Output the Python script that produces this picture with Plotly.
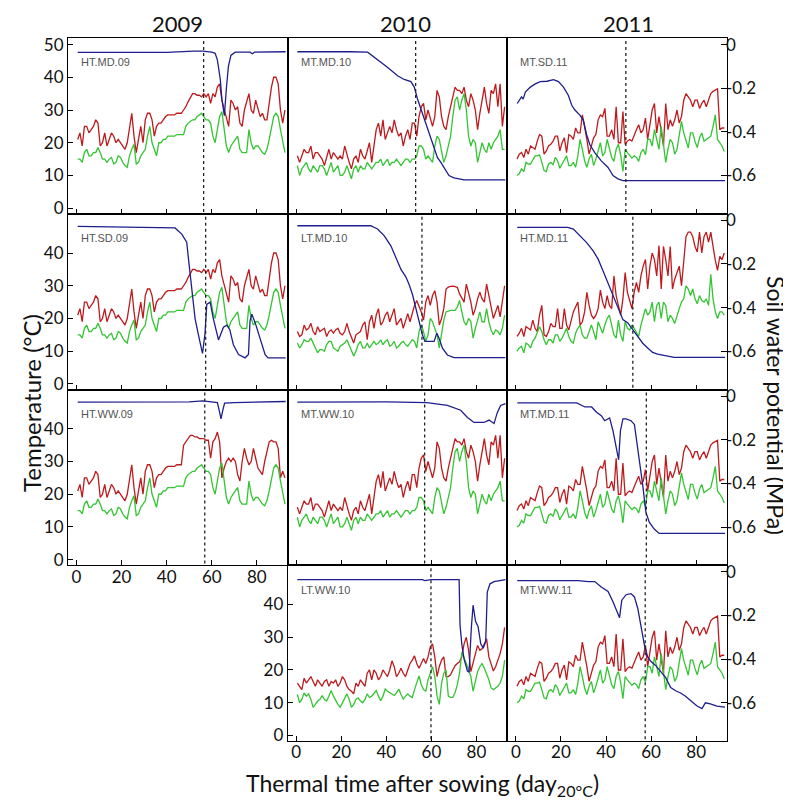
import plotly.graph_objects as go

# ---------------- data ----------------
thermal_time = [i + 0.5 for i in range(93)]

# 2009, high temperature site
ht09_tmax = [21, 23, 19, 25, 25, 23, 24, 25, 27, 26, 19, 20, 23, 19, 21, 23, 22, 20, 21, 20,
             19, 18, 20, 25, 29, 22, 17, 21, 25, 20, 27, 29, 29, 27, 22, 25, 26, 26, 27, 28,
             28.5, 28.5, 28.5, 28.5, 29, 29, 29, 30, 31, 32.5, 34, 35, 35, 34.5, 34.5, 34, 35, 34, 35, 32,
             35, 34, 37, 38, 33, 30, 27, 25, 33, 32, 30, 31, 26, 25, 30, 33, 35, 30, 29, 33,
             30, 28, 29, 27, 27, 32, 37, 40, 40, 38, 30, 26, 30]
ht09_ww_tmax = [21, 23, 19, 25, 25, 23, 24, 25, 27, 26, 19, 20, 23, 19, 21, 23, 22, 20, 21, 20,
                19, 18, 20, 25, 29, 22, 17, 21, 25, 20, 27, 29, 29, 27, 22, 25, 26, 26, 27, 28,
                28.5, 28.5, 28.5, 28.5, 29, 29, 29, 35, 36, 37, 38, 38, 37.5, 37.5, 37, 37, 37, 36.5, 36.5, 31,
                36, 37, 39, 36, 25, 28, 30, 31, 30, 31, 30, 26, 24, 30, 34, 31, 29, 30, 34, 31,
                28, 27, 26, 30, 33, 36, 36.5, 36, 36, 34, 25, 27, 25]
ht09_tmin = [15, 15, 14, 17, 18, 16, 16, 17, 17, 18.5, 17, 15, 15, 14, 15, 15.5, 13.5, 14, 16, 15.5,
             14, 13, 12.5, 16, 18, 19.5, 13.5, 14, 16, 17, 18, 22, 25, 20, 18, 16, 20, 20, 21, 21,
             22, 22, 22, 22, 22.5, 22.5, 22.5, 22.5, 25, 26, 26.5, 27, 27, 28, 28.5, 29, 28, 27, 27, 26,
             22, 20, 24, 28, 29.5, 24, 19, 17, 19, 20, 21, 22, 18, 17, 17, 17, 24, 20, 18, 19,
             19, 18, 17, 16.5, 18, 21, 24, 28, 29, 28, 24, 20, 17]

# 2010, medium temperature site
mt10_tmax = [16, 14, 16, 18, 17, 17, 19, 15, 17, 17, 16, 15, 13, 16, 18, 15, 17, 16, 15, 16,
             15, 19, 16, 14, 12, 15, 16, 14, 18, 16, 15, 18, 20, 14, 20, 24, 26, 22, 27, 21,
             23, 25, 23, 27, 24, 22, 23, 19, 22, 24, 21, 26, 26, 22, 28, 31, 32, 27, 30, 27,
             25, 28, 36, 34, 28, 25, 24, 28, 31, 33, 37, 36, 36, 35, 37, 33, 31, 35, 33, 30,
             24, 29, 33, 37, 32, 29, 36, 35, 38, 31, 38, 25, 31]
mt10_tmin = [13, 10, 12, 13, 14, 12, 11, 13, 12, 11, 13, 13, 12, 10, 12, 14, 11, 12, 13, 10,
             10, 11, 13, 11, 9, 12, 13, 11, 13, 12, 12, 14, 13, 12, 13, 14, 14, 15, 13, 14,
             15, 13, 14, 14, 15, 14, 13, 14, 15, 15, 14, 15, 15, 16, 19, 19, 18, 15, 16, 15,
             14, 19, 22, 21, 18, 14, 16, 19, 22, 28, 33, 34, 30, 33, 35, 30, 22, 19, 21, 20,
             14, 17, 20, 18, 17, 20, 18, 20, 21, 22, 24, 18, 18]

# 2010, low temperature site (two plots)
lt10_md_tmax = [16, 14.5, 15, 18, 16.5, 17, 18.5, 16, 15, 17.5, 16, 16.5, 17, 14.5, 16, 16.5, 15.5, 16.5, 17, 15.5,
                15, 16, 18.5, 16, 14, 12.5, 15, 15.5, 16, 18, 19, 13.5, 19, 21, 17, 21, 23, 18, 19, 21,
                22, 19, 21, 23, 18, 19, 20, 17, 19, 21.5, 19, 22, 24, 25.5, 24, 22, 19.5, 25, 27, 24,
                27, 28.5, 25, 18, 20, 23, 29, 29.6, 29.8, 29.9, 29.7, 29.5, 27.5, 26, 25, 30.5, 28, 25, 21, 23,
                26, 28, 26, 25, 30.5, 27, 23, 20, 22, 24, 20.5, 25, 30]
lt10_md_tmin = [12.5, 11, 12, 13.5, 13, 13, 14, 12.5, 11, 9.5, 10.5, 10.5, 10, 12, 13, 13, 11, 10.5, 10, 11.5,
                12, 12.5, 13.5, 12, 10, 8.5, 10, 12, 13, 11, 11, 12.5, 11, 12, 13, 12, 12.5, 13.5, 12, 13,
                13.5, 11.5, 12, 13, 11, 11.5, 12.5, 13, 12, 11.5, 12.5, 13.5, 13, 11, 16, 18, 16, 13, 15, 20,
                19, 17, 15, 11, 15, 19.5, 22, 22.3, 22.5, 22.5, 22.5, 23.5, 25.5, 22, 19, 18, 20, 19, 14, 17,
                20, 22, 19, 19, 23, 19, 16.5, 15, 16.5, 16, 15, 17, 21]
lt10_ww_tmax = [16, 15, 14, 17.5, 16, 17, 18, 16.5, 15, 17, 16, 15, 16.5, 17, 15, 16.5, 16, 17, 15, 16,
                18, 17, 15, 14, 13.5, 12.7, 16, 15, 17, 16, 15, 19, 20, 17, 20, 19, 17, 18, 20, 19,
                18, 20, 22.8, 21, 18, 19, 20.5, 19, 18, 20, 22, 23, 24.3, 22, 20.5, 22, 23.5, 22, 24, 27,
                28, 24, 18, 21, 23, 24, 18, 18, 18.5, 20, 21.3, 22, 22.5, 24, 28, 30, 26, 19.5, 22, 25,
                27.5, 26, 26.5, 28, 29.5, 24, 22, 19.7, 21, 23, 25, 28, 33]
lt10_ww_tmin = [12.5, 10, 11, 13, 12, 12.7, 11, 8.6, 9.5, 10.5, 11, 12.2, 11, 10.5, 12, 13.7, 12, 10.6, 9.5, 8.6,
                10, 11.5, 12.7, 11, 8.6, 9.5, 11, 11.5, 10.5, 10, 11, 12.7, 11.6, 12, 12.7, 13.7, 12, 10.6, 12, 14.2,
                13.5, 13, 12.5, 12.2, 13, 14.2, 12.5, 11.1, 12, 12.7, 12, 11.6, 14, 16, 18.2, 15.5, 14, 13.5, 17, 19,
                21, 18, 12, 9.5, 16, 19, 20, 12, 11.6, 11.6, 13, 15.5, 19, 25.5, 24, 22, 20, 18, 13.5, 17,
                19.5, 21, 22, 20.5, 19, 17, 14.5, 14, 14.5, 15, 16, 18, 23]

# 2011, high temperature site
ht11_tmax = [14.5, 15.5, 17, 14.5, 17.5, 17, 16.5, 19.5, 17, 16, 21, 24, 15, 14.5, 16, 18.5, 17.5, 17.5, 23, 17,
             17, 23, 18, 16.5, 19, 22, 23.5, 25, 18, 19, 22, 28, 24, 21, 20, 21, 23, 28.7, 25, 23,
             27, 24, 23, 33, 27, 24, 21, 26, 34, 28, 25, 23, 28, 31, 28, 33, 36, 38, 29, 36,
             40, 38, 33, 42.3, 29, 42, 38, 33, 42, 29, 32, 34, 36, 30, 38, 45, 46.4, 46.4, 45, 42,
             40.3, 46.4, 40, 45, 46.4, 43.3, 46.4, 42, 37.8, 34.7, 39, 38, 40]
ht11_tmin = [10, 11, 11.5, 9.5, 12.5, 12, 11, 13, 14, 16, 17.5, 16, 13.5, 12, 13.5, 13.5, 12.5, 15, 15, 13,
             14, 15.5, 17, 14.5, 13, 12.5, 15.5, 17, 18, 15, 14, 14, 16, 18, 16, 13.5, 19, 17, 15.5, 18,
             20, 21, 17.5, 15, 14, 19.5, 15, 13, 19, 17, 16.5, 18, 17, 15.5, 14.5, 18, 21, 23, 21, 22,
             25, 19, 24, 25, 20, 25, 24, 19, 21, 20, 18.5, 21, 23, 25, 26, 30, 29, 27, 29, 26,
             24.5, 27, 25.5, 25, 26, 24, 33.5, 26, 22, 20, 22, 22, 21]

# 2011, medium temperature site
mt11_tmax = [15, 16.5, 17, 15.5, 18, 16.5, 19, 18.5, 18, 20.5, 22.5, 22, 16.5, 17.5, 19, 19.5, 20.5, 22, 22, 17.5,
             20, 21.5, 17, 22.5, 22, 21, 24.5, 23, 23, 28.5, 25, 21, 16.5, 19.5, 21.5, 22.5, 27, 28.5, 28, 30.5,
             22, 22, 24, 21, 31, 20, 20, 29.5, 19.5, 20.5, 21, 20.5, 22.5, 24, 25.5, 23, 24, 27.5, 21, 26,
             30, 32, 23, 28, 24, 19, 32, 24, 27, 25, 27, 30, 26, 28, 33, 35, 34, 33, 31, 33,
             33, 30.5, 32, 33, 31, 33, 35, 35.7, 36, 36.5, 24, 24.5, 24.5]
mt11_tmin = [10, 10.5, 12, 11.2, 14, 13.5, 13.5, 15, 16, 16, 16.3, 14, 11.5, 11.2, 13.5, 14, 13.3, 15.5, 14.5, 12.2,
             13.5, 15, 16, 13, 13, 14, 12.5, 16, 21, 18, 14.5, 12.5, 15, 16.5, 13, 15, 18, 20, 16, 17,
             21, 18, 15.5, 14.3, 18, 19.5, 16.3, 11.2, 18, 17, 16, 15.3, 16, 15.5, 14.3, 17, 18, 16.3, 21, 21,
             19, 24, 21, 18, 25, 19, 14, 18, 21, 20, 16.5, 18, 22, 26.5, 23, 20.5, 18.4, 23, 23, 20.4,
             18.5, 21.5, 23, 20.5, 21, 21.5, 22, 25, 28.5, 21, 20, 19, 17.3]

# soil water potential (MPa)
swp_ht_md_09_x = [0.5, 20, 40, 52, 56, 60, 61.5, 62.5, 63.8, 64.5, 65.6, 66.5, 67.4, 68.5, 70.4, 77, 78, 79, 92.8]
swp_ht_md_09_y = [-0.036, -0.036, -0.036, -0.03, -0.03, -0.035, -0.04, -0.07, -0.16, -0.25, -0.326, -0.2, -0.1,
                  -0.05, -0.035, -0.035, -0.042, -0.035, -0.033]
swp_ht_sd_09_x = [0.5, 20, 40, 43.7, 46.7, 48.9, 49.6, 50.8, 52.6, 54.4, 55.9, 57, 57.8, 59.3, 60.7, 63, 65.2,
                  66.7, 68, 69.6, 71.9, 74.8, 76.3, 77, 77.8, 79.3, 82.2, 83.7, 85, 92.8]
swp_ht_sd_09_y = [-0.028, -0.03, -0.033, -0.035, -0.063, -0.10, -0.17, -0.29, -0.45, -0.54, -0.61, -0.52,
                  -0.385, -0.375, -0.45, -0.548, -0.49, -0.48, -0.5, -0.57, -0.615, -0.63, -0.615, -0.46,
                  -0.43, -0.47, -0.56, -0.615, -0.63, -0.63]
swp_ht_ww_09_x = [0.5, 50, 56, 62.5, 63.5, 64.1, 64.8, 65.7, 70, 92.8]
swp_ht_ww_09_y = [-0.028, -0.027, -0.022, -0.03, -0.075, -0.105, -0.07, -0.032, -0.03, -0.025]
swp_mt_md_10_x = [0.5, 20, 22, 24, 31.7, 36.1, 40.6, 45, 47.9, 50.9, 52.4, 53.8, 55.3, 56.8, 58.3, 59.7, 61.2,
                  62.7, 64.2, 66.4, 67.8, 70, 72.3, 74.5, 92.8]
swp_mt_md_10_y = [-0.033, -0.033, -0.03, -0.033, -0.035, -0.068, -0.105, -0.143, -0.16, -0.17, -0.195, -0.248,
                  -0.293, -0.338, -0.383, -0.428, -0.473, -0.518, -0.54, -0.578, -0.60, -0.611, -0.615, -0.62, -0.62]
swp_lt_md_10_x = [0.5, 33, 36.1, 39.1, 42, 44.2, 46.5, 48.7, 50.1, 51.6, 53.1, 54.6, 56, 57.1, 61.2, 62.4, 63.4,
                  64.9, 67.1, 70, 92.8]
swp_lt_md_10_y = [-0.025, -0.025, -0.04, -0.071, -0.117, -0.171, -0.225, -0.26, -0.294, -0.34, -0.40, -0.463,
                  -0.525, -0.555, -0.555, -0.517, -0.54, -0.586, -0.617, -0.629, -0.629]
swp_mt_ww_10_x = [0.5, 30, 32, 40, 58, 67.1, 73, 76, 78.9, 83.3, 85.6, 87.8, 89.2, 90.7, 92.9]
swp_mt_ww_10_y = [-0.028, -0.028, -0.025, -0.027, -0.03, -0.043, -0.065, -0.098, -0.121, -0.121, -0.11, -0.126,
                  -0.077, -0.043, -0.035]
swp_lt_ww_10_x = [0.5, 56, 57, 60, 72.3, 72.7, 73.5, 74.5, 76, 76.7, 77.7, 78.5, 79.6, 80.7, 81.9, 83, 84.1,
                  84.8, 86, 87.8, 92.9]
swp_lt_ww_10_y = [-0.036, -0.036, -0.04, -0.036, -0.036, -0.243, -0.333, -0.4, -0.455, -0.46, -0.26, -0.153,
                  -0.228, -0.25, -0.33, -0.35, -0.32, -0.093, -0.055, -0.045, -0.036]
swp_mt_sd_11_x = [0.6, 1.6, 2.5, 3.2, 4.2, 6.4, 8.6, 10.8, 13.8, 16.7, 18.9, 21.1, 23.3, 24.8, 26.2, 28.4, 29.9,
                  31.4, 32.8, 35, 37.9, 40.9, 43.1, 45.3, 47.5, 92.8]
swp_mt_sd_11_y = [-0.27, -0.255, -0.24, -0.25, -0.218, -0.195, -0.18, -0.17, -0.168, -0.161, -0.17, -0.195,
                  -0.233, -0.278, -0.30, -0.323, -0.345, -0.413, -0.458, -0.495, -0.533, -0.563, -0.60,
                  -0.615, -0.623, -0.623]
swp_ht_md_11_x = [0.6, 23, 25.5, 28.4, 31.4, 34.3, 36.5, 38.7, 40.9, 43.1, 45.3, 47.5, 49.7, 51.9, 54.1, 56.3,
                  58.5, 60.7, 62.9, 65.8, 70.2, 92.8]
swp_ht_md_11_y = [-0.032, -0.032, -0.04, -0.071, -0.102, -0.14, -0.178, -0.232, -0.286, -0.348, -0.40, -0.455,
                  -0.47, -0.50, -0.532, -0.563, -0.585, -0.605, -0.613, -0.618, -0.628, -0.628]
swp_mt_md_11_x = [0.6, 27, 30.6, 33.6, 35.8, 37.9, 39.4, 41.6, 43.1, 44.5, 45.6, 46.4, 47.5, 48.9, 51.1, 52.6,
                  54.1, 55.2, 56.3, 57.7, 59.2, 61.4, 63.6, 92.8]
swp_mt_md_11_y = [-0.031, -0.031, -0.05, -0.05, -0.074, -0.09, -0.113, -0.10, -0.16, -0.237, -0.292, -0.16,
                  -0.105, -0.105, -0.113, -0.13, -0.237, -0.315, -0.408, -0.532, -0.578, -0.609, -0.629, -0.629]
swp_mt_ww_11_x = [0.6, 27.7, 32.1, 35, 37.9, 40.9, 43.1, 44.5, 46, 47, 48.9, 51.1, 52.6, 54.1, 55.5, 57, 58.5,
                  59.9, 62.1, 64.3, 66.5, 68.7, 70.9, 73.1, 75.3, 77.5, 80.4, 82.6, 84.1, 86.3, 89.2, 92.8]
swp_mt_ww_11_y = [-0.04, -0.04, -0.045, -0.045, -0.07, -0.09, -0.137, -0.175, -0.21, -0.13, -0.105, -0.10,
                  -0.115, -0.168, -0.243, -0.333, -0.39, -0.41, -0.43, -0.455, -0.485, -0.53, -0.545, -0.555,
                  -0.57, -0.59, -0.615, -0.627, -0.60, -0.605, -0.615, -0.62]

# flowering dates (vertical dotted lines)
flowering = {"HT.MD.09": 56.4, "HT.SD.09": 57.3, "HT.WW.09": 56.9,
             "MT.MD.10": 53.0, "LT.MD.10": 55.8, "MT.WW.10": 57.0, "LT.WW.10": 59.8,
             "MT.SD.11": 48.8, "HT.MD.11": 51.9, "MT.MD.11": 57.9, "MT.WW.11": 57.4}

years = ["2009", "2010", "2011"]
temp_ticks = [0, 10, 20, 30, 40, 50]
swp_ticks = [0, -0.2, -0.4, -0.6]
swp_ticktext = ["0", "-0.2", "-0.4", "-0.6"]
x_ticks = [0, 20, 40, 60, 80]

# panel: (label, row, col, tmax, tmin, swp_x, swp_y)
panels = [
    ("HT.MD.09", 1, 1, ht09_tmax, ht09_tmin, swp_ht_md_09_x, swp_ht_md_09_y),
    ("MT.MD.10", 1, 2, mt10_tmax, mt10_tmin, swp_mt_md_10_x, swp_mt_md_10_y),
    ("MT.SD.11", 1, 3, mt11_tmax, mt11_tmin, swp_mt_sd_11_x, swp_mt_sd_11_y),
    ("HT.SD.09", 2, 1, ht09_tmax, ht09_tmin, swp_ht_sd_09_x, swp_ht_sd_09_y),
    ("LT.MD.10", 2, 2, lt10_md_tmax, lt10_md_tmin, swp_lt_md_10_x, swp_lt_md_10_y),
    ("HT.MD.11", 2, 3, ht11_tmax, ht11_tmin, swp_ht_md_11_x, swp_ht_md_11_y),
    ("HT.WW.09", 3, 1, ht09_ww_tmax, ht09_tmin, swp_ht_ww_09_x, swp_ht_ww_09_y),
    ("MT.WW.10", 3, 2, mt10_tmax, mt10_tmin, swp_mt_ww_10_x, swp_mt_ww_10_y),
    ("MT.MD.11", 3, 3, mt11_tmax, mt11_tmin, swp_mt_md_11_x, swp_mt_md_11_y),
    ("LT.WW.10", 4, 2, lt10_ww_tmax, lt10_ww_tmin, swp_lt_ww_10_x, swp_lt_ww_10_y),
    ("MT.WW.11", 4, 3, mt11_tmax, mt11_tmin, swp_mt_ww_11_x, swp_mt_ww_11_y),
]

# ---------------- figure ----------------
RED, GREEN, BLUE = "#bd1a1e", "#34c434", "#1e1e8c"
FONT = "Lato, Carlito, 'Open Sans', sans-serif"
W, H = 791, 800
ML, MR, MT_, MB = 60, 72, 30, 67

fig = go.Figure()
layout = {}
shapes = []
annotations = []

for k, (label, r, c, tmax, tmin, sx, sy) in enumerate(panels, start=1):
    xa = "x" if k == 1 else f"x{k}"
    ya_t = "y" if k == 1 else f"y{2 * k - 1}"
    ya_s = f"y{2 * k}"
    xd = [(c - 1) / 3, c / 3]
    yd = [1 - r / 4, 1 - (r - 1) / 4]

    fig.add_trace(go.Scatter(x=thermal_time, y=tmax, mode="lines", xaxis=xa, yaxis=ya_t,
                             line=dict(color=RED, width=1.3), showlegend=False, hoverinfo="skip"))
    fig.add_trace(go.Scatter(x=thermal_time, y=tmin, mode="lines", xaxis=xa, yaxis=ya_t,
                             line=dict(color=GREEN, width=1.3), showlegend=False, hoverinfo="skip"))
    fig.add_trace(go.Scatter(x=sx, y=sy, mode="lines", xaxis=xa, yaxis=ya_s,
                             line=dict(color=BLUE, width=1.3), showlegend=False, hoverinfo="skip"))

    show_x = (r == 4) or (r == 3 and c == 1)
    show_left = (c == 1) or (r == 4 and c == 2)
    show_right = (c == 3)

    xkey = "xaxis" if k == 1 else f"xaxis{k}"
    ytkey = "yaxis" if k == 1 else f"yaxis{2 * k - 1}"
    yskey = f"yaxis{2 * k}"

    layout[xkey] = dict(domain=xd, anchor=ya_t, range=[-3.8, 93.7], tickvals=x_ticks,
                        ticks="inside", ticklen=5, tickcolor="black", showticklabels=show_x,
                        ticklabelstandoff=-4,
                        tickfont=dict(size=17, color="#111", family=FONT),
                        showline=True, mirror=True, linecolor="black", linewidth=1,
                        showgrid=False, zeroline=False)
    layout[ytkey] = dict(domain=yd, anchor=xa, range=[-1.7, 52],
                         tickvals=temp_ticks if r == 1 else temp_ticks[:-1],
                         ticks="inside" if show_left else "", ticklen=5, tickcolor="black",
                         showticklabels=show_left,
                         tickfont=dict(size=17, color="#111", family=FONT),
                         showline=True, mirror=True, linecolor="black", linewidth=1,
                         showgrid=False, zeroline=False)
    layout[yskey] = dict(overlaying=ya_t, anchor=xa, side="right", range=[-0.775, 0.03],
                         tickvals=swp_ticks, ticktext=swp_ticktext,
                         ticks="inside" if show_right else "", ticklen=6, tickcolor="black",
                         showticklabels=show_right, ticklabelstandoff=-2,
                         tickfont=dict(size=17, color="#111", family=FONT),
                         showline=False, showgrid=False, zeroline=False)

    shapes.append(dict(type="line", xref=xa, yref=f"{ya_t} domain",
                       x0=flowering[label], x1=flowering[label], y0=0.01, y1=0.99,
                       line=dict(color="#222", width=1.3, dash="dot")))
    annotations.append(dict(text=label, xref=f"{xa} domain", yref=f"{ya_t} domain",
                            x=0.05, y=0.862, xanchor="left", yanchor="middle", showarrow=False,
                            font=dict(size=11, color="#555", family="Liberation Sans, Arial")))

PW, PH = W - ML - MR, H - MT_ - MB


def px_x(p):
    return (p - ML) / PW


def px_y(p):
    return (H - MB - p) / PH


for yr, cx in zip(years, [169, 397, 620]):
    annotations.append(dict(text=yr, xref="paper", yref="paper", x=px_x(cx), y=px_y(15),
                            xanchor="center", yanchor="middle", showarrow=False,
                            font=dict(size=22, color="#111", family=FONT)))

annotations.append(dict(text="Temperature (°C)", xref="paper", yref="paper",
                        x=px_x(23), y=px_y(395), xanchor="center", yanchor="middle",
                        textangle=-90, showarrow=False,
                        font=dict(size=24, color="#111", family=FONT)))
annotations.append(dict(text="Soil water potential (MPa)", xref="paper", yref="paper",
                        x=px_x(768), y=px_y(397), xanchor="center", yanchor="middle",
                        textangle=90, showarrow=False,
                        font=dict(size=23, color="#111", family=FONT)))
annotations.append(dict(text="Thermal time after sowing (day<sub>20°C</sub>)", xref="paper", yref="paper",
                        x=px_x(414), y=px_y(776), xanchor="center", yanchor="middle",
                        showarrow=False, font=dict(size=23, color="#111", family=FONT)))

fig.update_layout(**layout)
fig.update_layout(width=W, height=H, margin=dict(l=ML, r=MR, t=MT_, b=MB),
                  paper_bgcolor="white", plot_bgcolor="white",
                  shapes=shapes, annotations=annotations, showlegend=False,
                  font=dict(family=FONT))

fig.write_html("out.html")
